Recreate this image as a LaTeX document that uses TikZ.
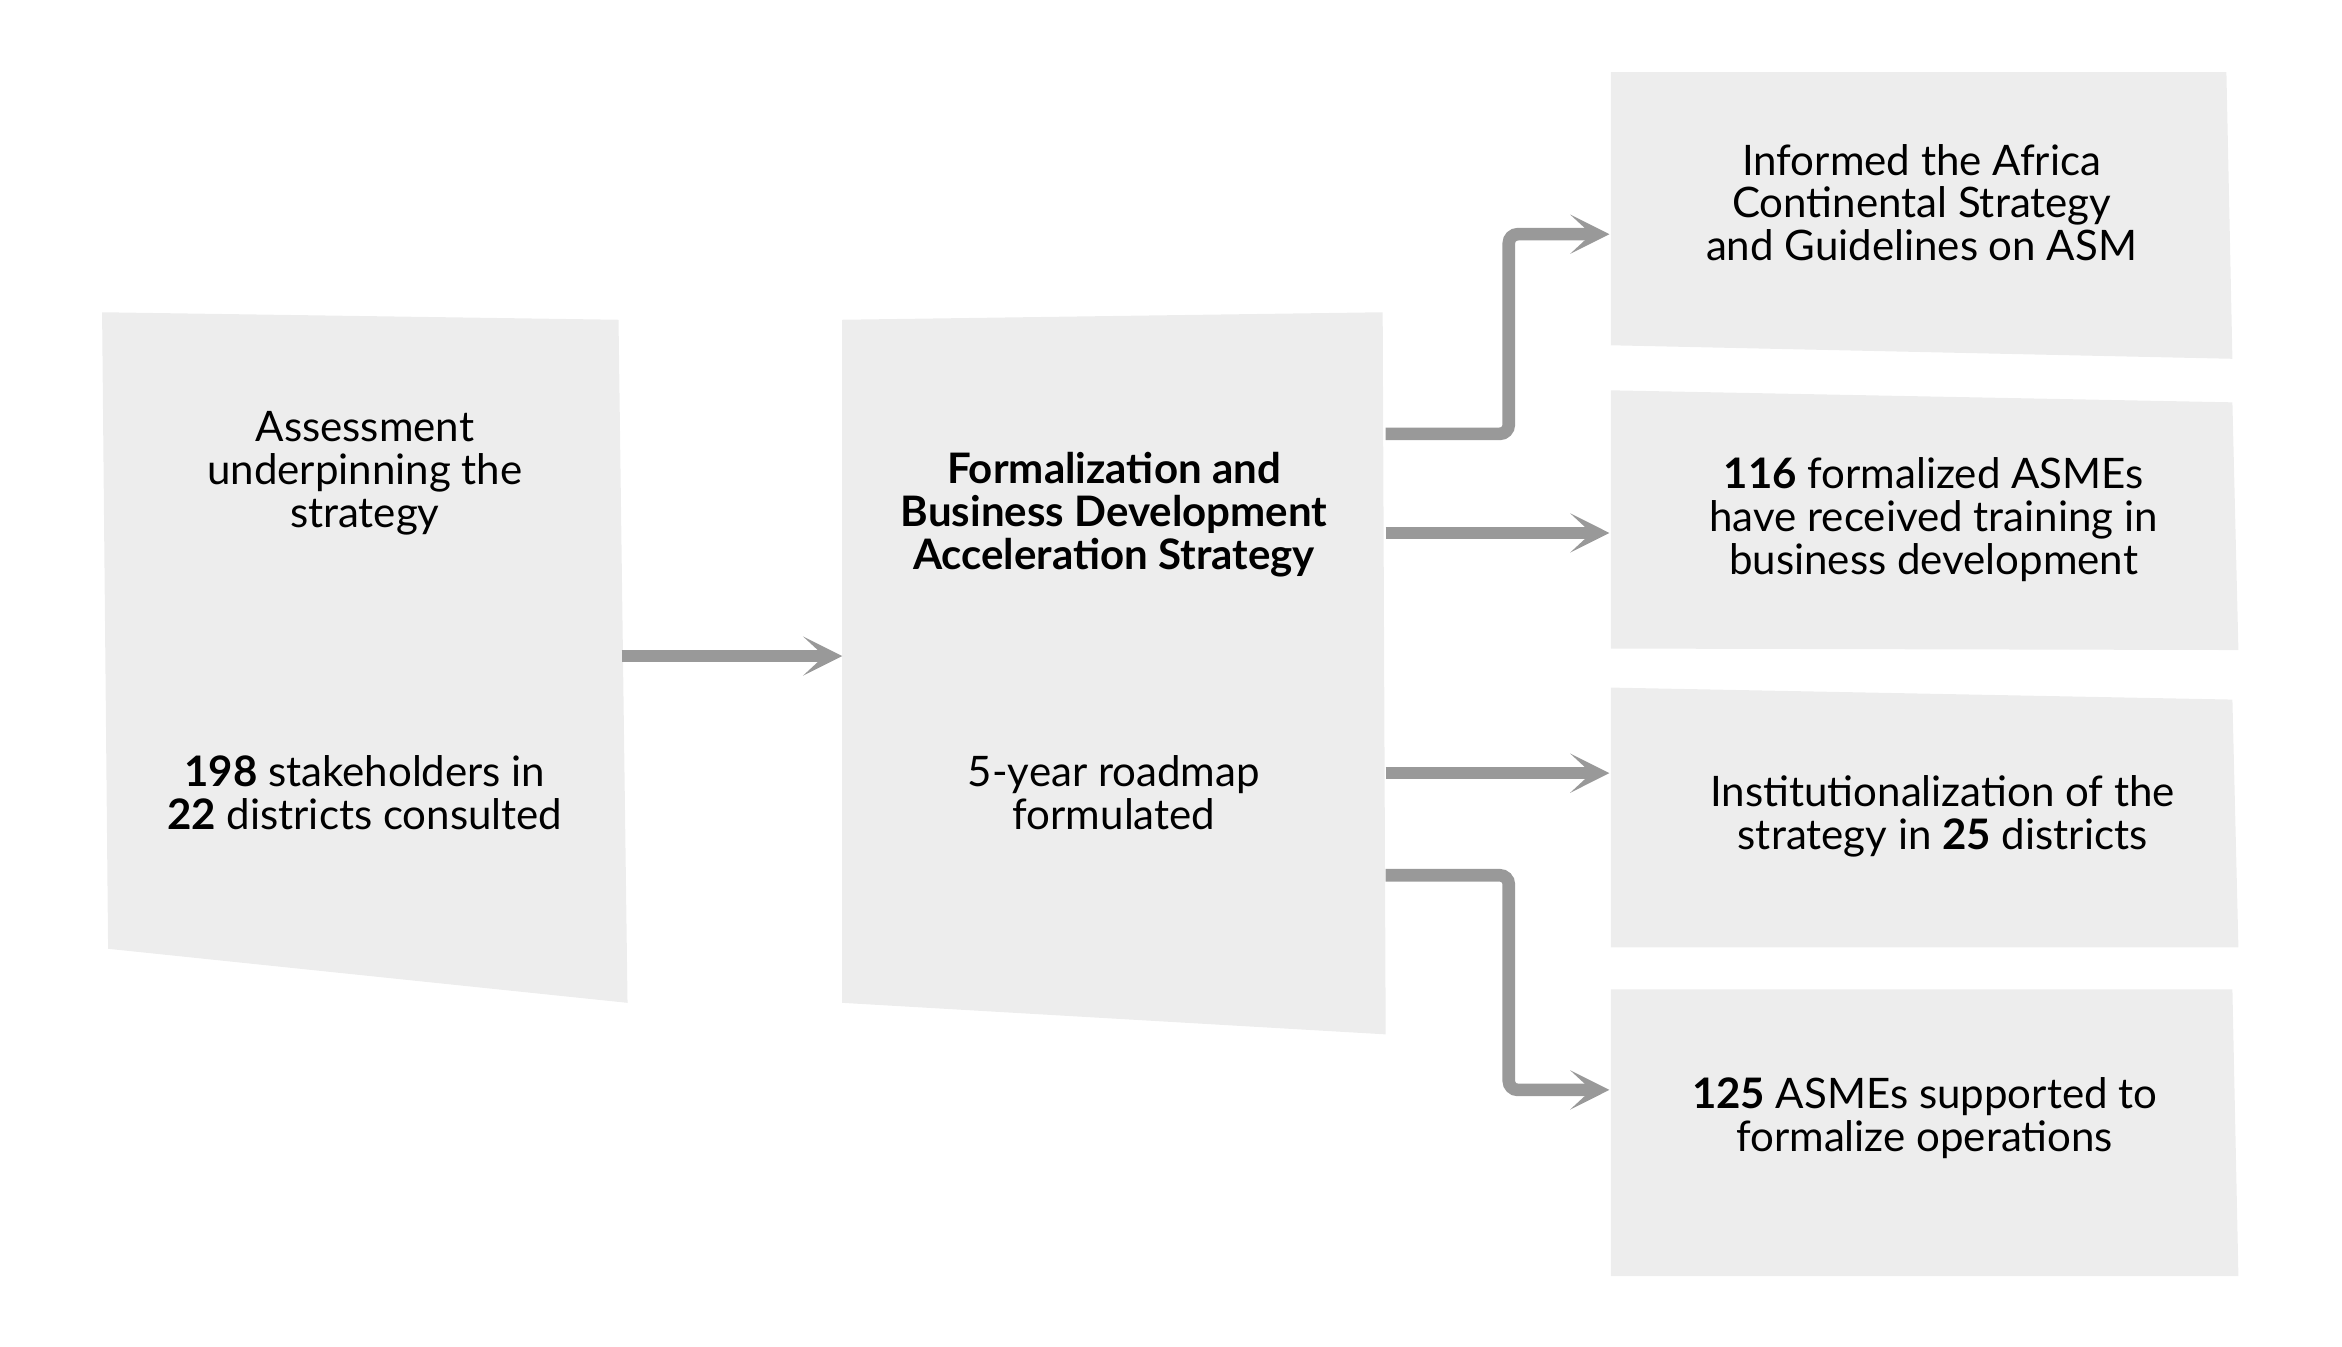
\documentclass[tikz,border=0pt]{standalone}
\usepackage{fontspec}
\setmainfont{Lato}
\usetikzlibrary{arrows.meta}
\definecolor{boxgray}{HTML}{EDEDED}
\definecolor{arrgray}{HTML}{999999}
\begin{document}
\begin{tikzpicture}[x=0.5pt,y=-0.5pt,
  boxfill/.style={fill=boxgray},
  txt/.style={align=center,font=\fontsize{14}{14.3}\selectfont,inner sep=0pt,text=black},
  conn/.style={draw=arrgray,line width=4.2pt,rounded corners=3pt,-{Stealth[length=13pt,width=13pt,inset=7pt]}},
]
\useasboundingbox (0,0) rectangle (1560,897);
% boxes
\fill[boxfill] (68,208) -- (412,213) -- (418,668) -- (72,632) -- cycle;
\fill[boxfill] (561,213) -- (921,208) -- (923,689) -- (561,668) -- cycle;
\fill[boxfill] (1073,48) -- (1483,48) -- (1487,239) -- (1073,230) -- cycle;
\fill[boxfill] (1073,260) -- (1487,268) -- (1491,433) -- (1073,432) -- cycle;
\fill[boxfill] (1073,458) -- (1487,466) -- (1491,631) -- (1073,631) -- cycle;
\fill[boxfill] (1073,659) -- (1487,659) -- (1491,850) -- (1073,850) -- cycle;
% texts
\node[txt] (a1) at (243,315) {Assessment\\underpinning the\\strategy};
\node[txt] (a2) at (243,528) {\textbf{198} stakeholders in\\\textbf{22} districts consulted};
\node[txt,font=\fontsize{14}{14.3}\selectfont\bfseries] (b1) at (742,343) {Formalization and\\Business Development\\Acceleration Strategy};
\node[txt] (b2) at (742,528) {5-year roadmap\\formulated};
\node[txt] (r1) at (1280,135) {Informed the Africa\\Continental Strategy\\and Guidelines on ASM};
\node[txt] (r2) at (1288,346) {\textbf{116} formalized ASMEs\\have received training in\\business development};
\node[txt] (r3) at (1294,544) {Institutionalization of the\\strategy in \textbf{25} districts};
\node[txt] (r4) at (1282,745) {\textbf{125} ASMEs supported to\\formalize operations};
% connector anchors
\coordinate (ao) at (414,437);
\coordinate (bi) at (561,437);
\coordinate (bo1) at (923,289);
\coordinate (bo2) at (923,355);
\coordinate (bo3) at (923,515);
\coordinate (bo4) at (923,583);
\coordinate (ri1) at (1072,156);
\coordinate (ri2) at (1072,355);
\coordinate (ri3) at (1072,515);
\coordinate (ri4) at (1072,726);
% connectors
\draw[conn] (ao) -- (bi);
\draw[conn] (bo1) -| (1005,156) -- (ri1);
\draw[conn] (bo2) -- (ri2);
\draw[conn] (bo3) -- (ri3);
\draw[conn] (bo4) -| (1005,726) -- (ri4);
\end{tikzpicture}
\end{document}
